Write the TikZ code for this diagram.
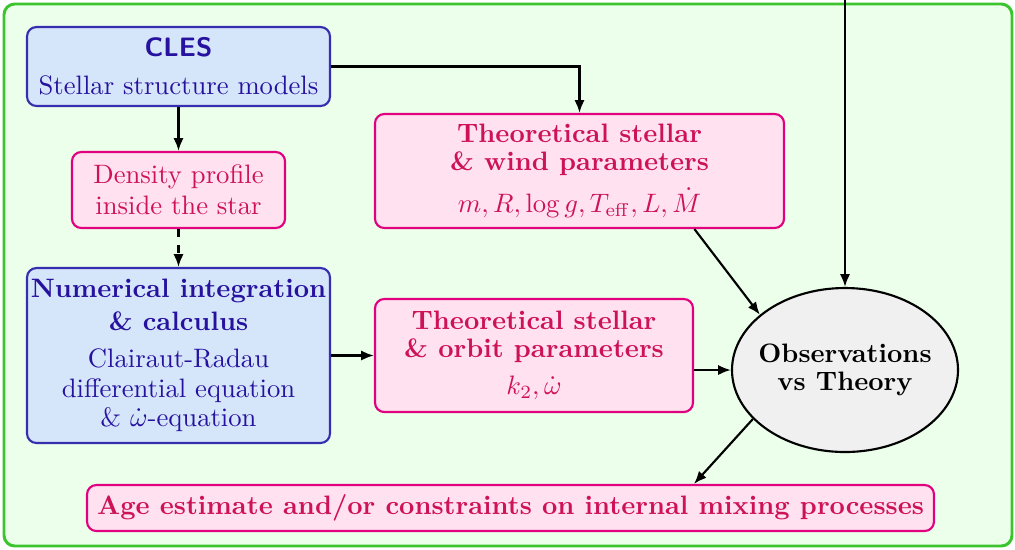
\documentclass[tikz,border=0pt]{standalone}
\usetikzlibrary{arrows.meta,shapes.geometric,calc}
\definecolor{framegreen}{RGB}{60,196,46}
\definecolor{framefill}{RGB}{235,255,235}
\definecolor{bluefill}{RGB}{214,230,250}
\definecolor{blueline}{RGB}{55,45,175}
\definecolor{bluetext}{RGB}{38,18,158}
\definecolor{pinkfill}{RGB}{255,225,240}
\definecolor{pinkline}{RGB}{225,0,125}
\definecolor{pinktext}{RGB}{205,18,88}
\definecolor{ellfill}{RGB}{240,240,240}
\begin{document}
\begin{tikzpicture}[x=0.375pt,y=-0.375pt,
  box/.style={rectangle,rounded corners=3.5pt,line width=0.8pt,align=center,
    inner sep=0pt,font=\fontsize{10}{11}\selectfont},
  bluebox/.style={box,draw=blueline,fill=bluefill,text=bluetext},
  pinkbox/.style={box,draw=pinkline,fill=pinkfill,text=pinktext},
  link/.style={line width=0.8pt,-{Latex[length=4.8pt,width=3.8pt]}},
]
\useasboundingbox (0,0) rectangle (1015,549);

% outer frame
\draw[framegreen,fill=framefill,line width=1.1pt,rounded corners=4pt]
  (4,4) rectangle (1012,546);

% model boxes
\node[bluebox,minimum width=113.6pt,minimum height=29.6pt] (cles) at (178.5,66.5)
  {{\sffamily\bfseries CLES}\\[3.2pt]Stellar structure models};
\node[pinkbox,minimum width=79.9pt,minimum height=28.5pt] (dens) at (178.5,190)
  {Density profile\\[0.6pt]inside the star};
\node[bluebox,minimum width=113.6pt,minimum height=65.6pt] (num) at (178.5,355.5)
  {\textbf{Numerical integration}\\[1.4pt]\textbf{\& calculus}\\[2.9pt]
   Clairaut-Radau\\differential equation\\\& $\dot\omega$-equation};
\node[pinkbox,minimum width=153.4pt,minimum height=42.75pt] (wind) at (579.5,171)
  {\textbf{Theoretical stellar}\\[-0.5pt]\textbf{\& wind parameters}\\[3.6pt]
   $m, R, \log g, T_{\mathrm{eff}}, L, \dot M$};
\node[pinkbox,minimum width=119.25pt,minimum height=42.4pt] (orbit) at (534,355.5)
  {\textbf{Theoretical stellar}\\[-0.5pt]\textbf{\& orbit parameters}\\[2.9pt]
   $k_2, \dot\omega$};
\node[ellipse,draw=black,fill=ellfill,line width=0.8pt,align=center,
  inner xsep=-8pt,inner ysep=0pt,minimum width=84.75pt,minimum height=61.5pt,
  font=\fontsize{10}{11}\selectfont\bfseries] (obs) at (845,370)
  {Observations\\[-0.5pt]vs Theory};
\node[pinkbox,minimum width=317.6pt,minimum height=17.25pt,font=\bfseries] (age) at (510.5,508)
  {Age estimate and/or constraints on internal mixing processes};

% connectors
\coordinate (feed) at (845,-10);
\draw[link] (cles.east) -| (wind.north);
\draw[link] (cles.south) -- (dens.north);
\draw[link,dashed] (dens.south) -- (num.north);
\draw[link] (num.east) -- (orbit.west);
\draw[link] (orbit.east |- obs.west) -- (obs.west);
\draw[link] ([xshift=-34pt]wind.south east) -- (obs.147);
\draw[link] (feed) -- (obs.north);
\draw[link] (obs.208) -- ([xshift=68.8pt]age.north);
\end{tikzpicture}
\end{document}
